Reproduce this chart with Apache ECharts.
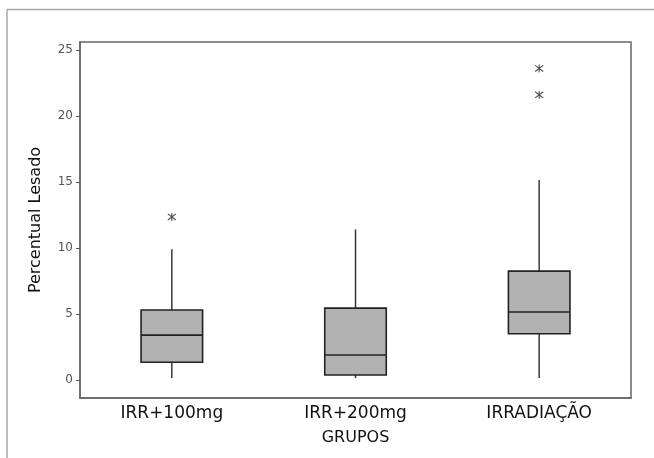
<!DOCTYPE html>
<html>
<head>
<meta charset="utf-8">
<script src="https://cdn.jsdelivr.net/npm/echarts@6/dist/echarts.min.js"></script>
<style>html,body{margin:0;padding:0;background:#fff;}#c{width:654px;height:458px;}</style>
</head>
<body>
<div id="c"></div>
<script>
var categories = ['IRR+100mg', 'IRR+200mg', 'IRRADIAÇÃO'];
// [whiskerLow, Q1, median, Q3, whiskerHigh]
var boxValues = [
  [0.15, 1.35, 3.4, 5.3, 9.9],
  [0.15, 0.38, 1.9, 5.45, 11.4],
  [0.15, 3.5, 5.15, 8.25, 15.15]
];
// [categoryIndex, value]
var outliers = [
  [0, 12.35],
  [2, 21.6],
  [2, 23.6]
];
var yTicks = [0, 5, 10, 15, 20, 25];

var chart = echarts.init(document.getElementById('c'), null, {renderer: 'canvas'});
var FONT = 'DejaVu Sans';
var option = {
  animation: false,
  backgroundColor: '#fff',
  graphic: [
    {type: 'line', shape: {x1: 7, y1: 9.5, x2: 654, y2: 9.5}, style: {stroke: '#a8a8a8', lineWidth: 1.5}},
    {type: 'line', shape: {x1: 7, y1: 9.5, x2: 7, y2: 458}, style: {stroke: '#a8a8a8', lineWidth: 1.5}}
  ],
  grid: {left: 80, top: 42, right: 23, bottom: 60, show: true, borderColor: '#666', borderWidth: 1.5, backgroundColor: 'transparent'},
  xAxis: {
    type: 'category',
    data: categories,
    boundaryGap: true,
    name: 'GRUPOS',
    nameLocation: 'middle',
    nameGap: 32,
    nameTextStyle: {fontFamily: FONT, fontSize: 16, color: '#111'},
    axisLine: {onZero: false, lineStyle: {color: '#666', width: 1.5}},
    axisTick: {alignWithLabel: true, length: 4, lineStyle: {color: '#555'}},
    axisLabel: {fontFamily: FONT, fontSize: 17, color: '#111', margin: 7, interval: 0},
    splitLine: {show: false}
  },
  yAxis: {
    type: 'value',
    min: -1.36,
    max: 25.6,
    name: 'Percentual Lesado',
    nameLocation: 'middle',
    nameGap: 36,
    nameTextStyle: {fontFamily: FONT, fontSize: 16, color: '#111', padding: [0, 0, 0, 0]},
    axisLine: {show: true, onZero: false, lineStyle: {color: '#666', width: 1.5}},
    axisTick: {show: true, length: 4, lineStyle: {color: '#555'}, customValues: yTicks},
    axisLabel: {fontFamily: FONT, fontSize: 12, color: '#555', margin: 7, customValues: yTicks},
    splitLine: {show: false}
  },
  series: [
    {
      type: 'custom',
      data: boxValues.map(function (b, i) { return [i].concat(b); }),
      encode: {x: 0, y: [1, 2, 3, 4, 5]},
      renderItem: function (params, api) {
        var idx = api.value(0);
        var lo = api.coord([idx, api.value(1)]);
        var q1 = api.coord([idx, api.value(2)]);
        var med = api.coord([idx, api.value(3)]);
        var q3 = api.coord([idx, api.value(4)]);
        var hi = api.coord([idx, api.value(5)]);
        var bw = api.size([1, 0])[0] * 0.335;
        var x = lo[0];
        var ls = {stroke: '#2a2a2a', lineWidth: 1.4};
        return {
          type: 'group',
          children: [
            {type: 'line', shape: {x1: x, y1: hi[1], x2: x, y2: q3[1]}, style: ls},
            {type: 'line', shape: {x1: x, y1: q1[1], x2: x, y2: lo[1]}, style: ls},
            {type: 'rect', shape: {x: x - bw / 2, y: q3[1], width: bw, height: q1[1] - q3[1]}, style: {fill: '#b2b2b2', stroke: '#222', lineWidth: 1.6}},
            {type: 'line', shape: {x1: x - bw / 2, y1: med[1], x2: x + bw / 2, y2: med[1]}, style: {stroke: '#222', lineWidth: 1.6}}
          ]
        };
      }
    },
    {
      type: 'scatter',
      data: outliers,
      symbol: 'path://M0,0L10,10M10,0L0,10M5,-1.5L5,11.5',
      symbolSize: 8,
      itemStyle: {color: 'none', borderColor: '#222', borderWidth: 1.1}
    }
  ]
};
chart.setOption(option);
</script>
</body>
</html>
